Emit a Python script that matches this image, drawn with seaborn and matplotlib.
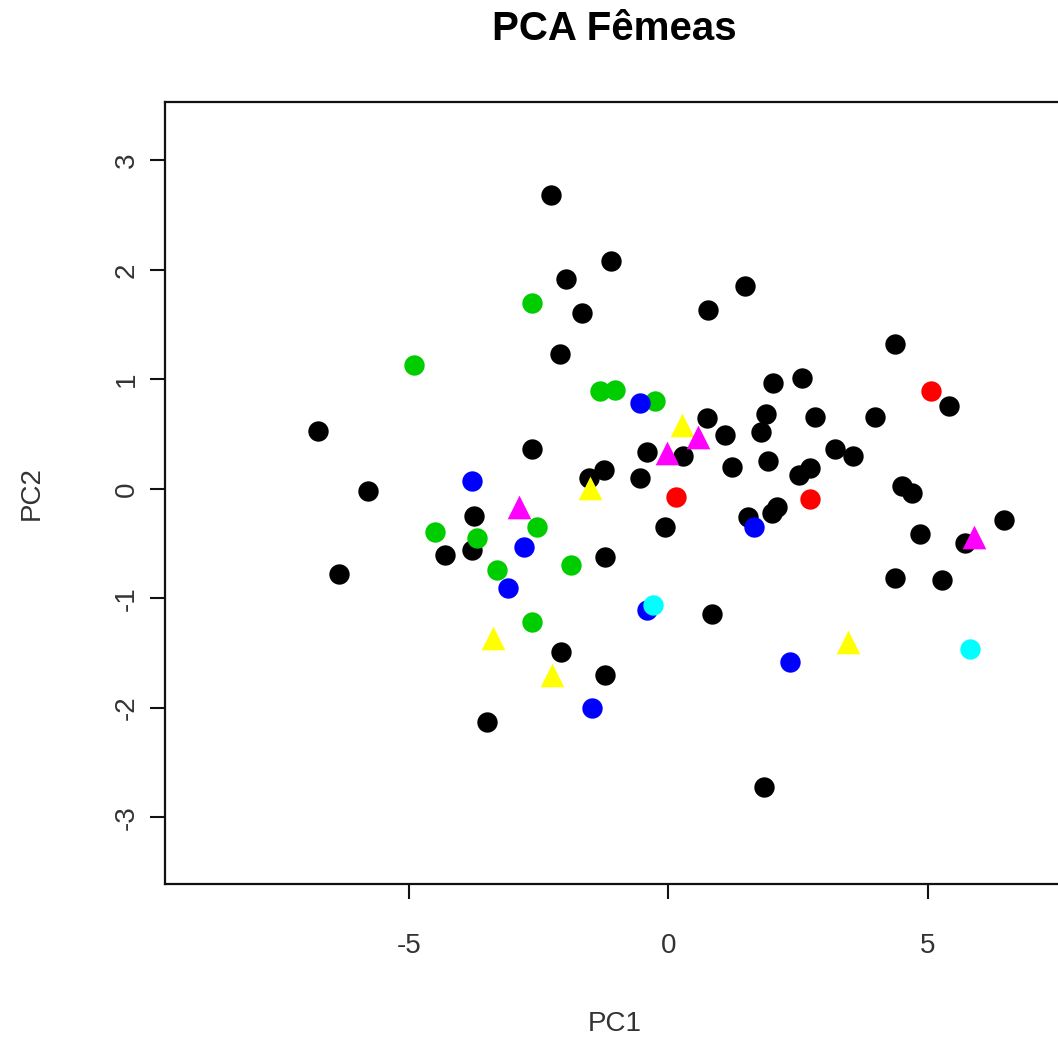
import matplotlib
matplotlib.use("Agg")
import matplotlib.pyplot as plt
import seaborn as sns
import pandas as pd

# ---- data (PC1, PC2) per group ----
black_pc1 = [-2.26, -1.10, -1.97, -1.66, -2.10, 0.77, 1.47, 4.38, 5.42, 2.01, 2.57, 0.75, 1.10,
             1.89, 1.78, 2.82, 3.98, 0.29, 1.22, 1.93, 3.22, 3.57, 2.74, 2.53, 4.50, 4.71, 1.53,
             2.00, 2.10, 4.86, 6.47, 5.73, -0.41, -1.25, -1.54, -0.54, -0.06, -6.76, -2.63, -5.79,
             -3.75, -3.78, -4.31, -1.22, -6.35, -2.07, -1.22, -3.49, 0.85, 1.85, 4.38, 5.27]
black_pc2 = [2.68, 2.08, 1.92, 1.61, 1.23, 1.63, 1.85, 1.32, 0.76, 0.97, 1.01, 0.65, 0.49,
             0.68, 0.52, 0.66, 0.66, 0.30, 0.20, 0.25, 0.36, 0.30, 0.19, 0.13, 0.03, -0.04, -0.26,
             -0.22, -0.17, -0.41, -0.28, -0.49, 0.34, 0.17, 0.10, 0.10, -0.35, 0.53, 0.36, -0.02,
             -0.25, -0.56, -0.60, -0.62, -0.78, -1.49, -1.70, -2.13, -1.14, -2.72, -0.81, -0.83]
red_pc1 = [5.06, 2.74, 0.14]
red_pc2 = [0.89, -0.09, -0.07]
green_pc1 = [-2.64, -4.90, -1.31, -1.02, -0.25, -4.50, -3.69, -2.53, -3.30, -1.87, -2.63]
green_pc2 = [1.70, 1.13, 0.89, 0.90, 0.80, -0.39, -0.45, -0.35, -0.74, -0.70, -1.22]
blue_pc1 = [-0.54, 1.66, -3.78, -2.78, -3.09, -1.47, -0.41, 2.34]
blue_pc2 = [0.78, -0.35, 0.07, -0.53, -0.91, -2.00, -1.11, -1.58]
cyan_pc1 = [-0.29, 5.81]
cyan_pc2 = [-1.06, -1.46]
yellow_pc1 = [0.27, -1.51, -3.38, -2.24, 3.47]
yellow_pc2 = [0.58, 0.01, -1.36, -1.70, -1.40]
magenta_pc1 = [0.58, -0.02, -2.88, 5.89]
magenta_pc2 = [0.47, 0.33, -0.17, -0.44]

groups = [
    ("black", black_pc1, black_pc2, "o"),
    ("red", red_pc1, red_pc2, "o"),
    ("green", green_pc1, green_pc2, "o"),
    ("blue", blue_pc1, blue_pc2, "o"),
    ("cyan", cyan_pc1, cyan_pc2, "o"),
    ("yellow", yellow_pc1, yellow_pc2, "^"),
    ("magenta", magenta_pc1, magenta_pc2, "^"),
]
colors = {"black": "#000000", "red": "#FF0000", "green": "#00CD00", "blue": "#0000FF",
          "cyan": "#00FFFF", "yellow": "#FFFF00", "magenta": "#FF00FF"}

sns.set_style("white")
plt.rcParams['font.family'] = ['Liberation Sans', 'DejaVu Sans']

fig = plt.figure(figsize=(10.58, 10.45), dpi=100)
ax = fig.add_axes([0.156, 0.154, 0.851, 0.748])

for name, xs, ys, mk in groups:
    df = pd.DataFrame({"PC1": xs, "PC2": ys})
    size = 215 if mk == "o" else 290
    sns.scatterplot(data=df, x="PC1", y="PC2", color=colors[name], marker=mk,
                    s=size, linewidth=0, ax=ax, legend=False)

ax.set_xlim(-9.71, 7.66)
ax.set_ylim(-3.61, 3.53)
ax.set_xticks([-5, 0, 5])
ax.set_yticks([-3, -2, -1, 0, 1, 2, 3])
ax.set_xticklabels(["-5", "0", "5"])
ax.set_yticklabels(["-3", "-2", "-1", "0", "1", "2", "3"], rotation=90, va="center")
ax.tick_params(axis="both", direction="out", length=11, width=1.5, color="#111111",
               labelsize=20, labelcolor="#333333", left=True, bottom=True)
ax.tick_params(axis="x", pad=24)
ax.tick_params(axis="y", pad=7)
for sp in ax.spines.values():
    sp.set_linewidth(1.6)
    sp.set_color("#111111")

ax.set_xlabel("PC1", fontsize=20, color="#333333", labelpad=38)
ax.set_ylabel("PC2", fontsize=20, color="#333333", labelpad=50)
fig.text(0.581, 0.972, "PCA Fêmeas", ha="center", va="center", fontsize=29,
         fontweight="bold", color="black")

fig.savefig("out.png", dpi=100, facecolor="white")
